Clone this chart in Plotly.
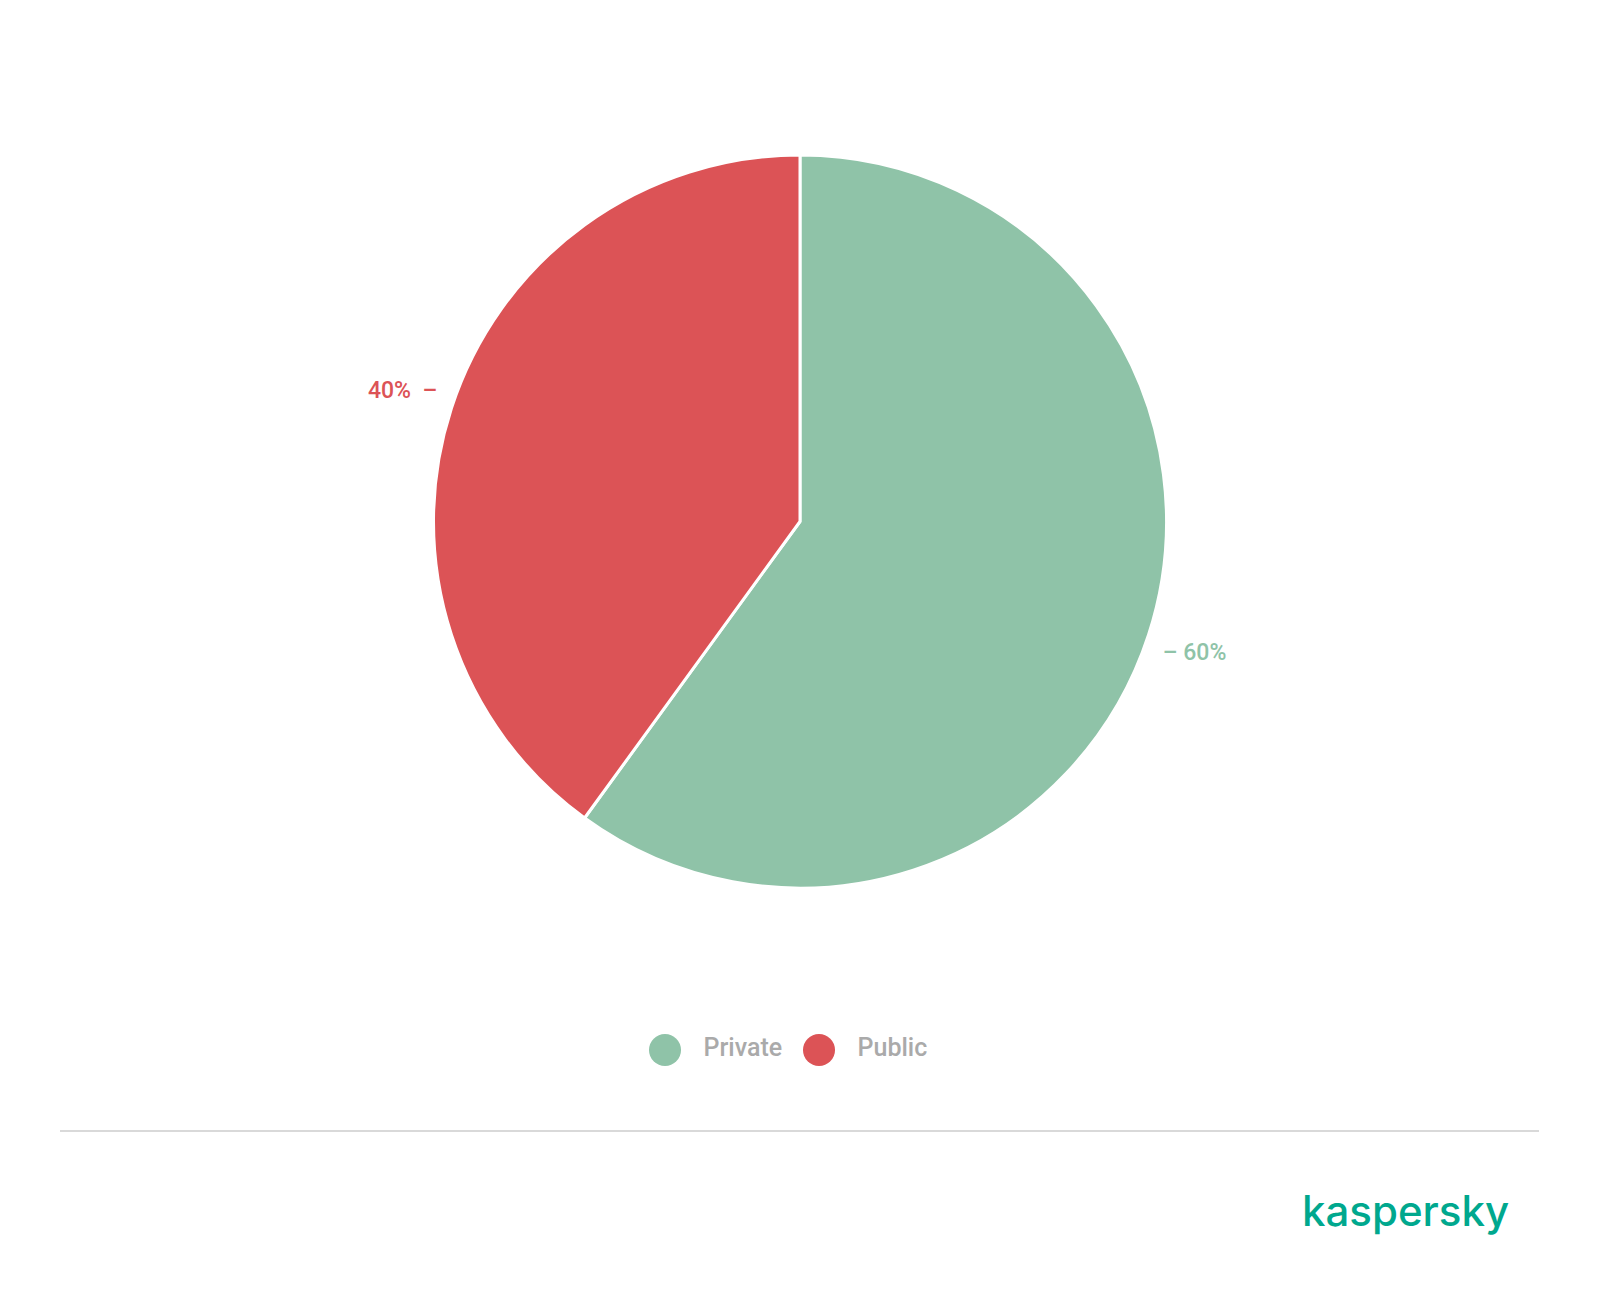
import plotly.graph_objects as go

categories = ["Private", "Public"]
values = [60, 40]
colors = ["#8fc3a8", "#dc5356"]
# blank line nudges each label radially outward, like the reference
label_templates = ["\u00a0<br>– %{percent:.0%}", "%{percent:.0%}  –<br>\u00a0"]
brand = "kaspersky"

# page body has an 8px margin, so the figure is drawn 8px in from the page edge
OFF = 8
W, H = 1600 - 2 * OFF, 1294 - 2 * OFF


def px(x):
    return (x - OFF) / W


def py(y):
    return 1 - (y - OFF) / H


fig = go.Figure()

fig.add_trace(go.Pie(
    labels=categories,
    values=values,
    sort=False,
    direction="clockwise",
    rotation=0,
    marker=dict(colors=colors, line=dict(color="#ffffff", width=3)),
    texttemplate=label_templates,
    textposition="outside",
    textfont=dict(color=colors, size=23, family="Roboto", weight=500),
    showlegend=False,
    hoverinfo="skip",
    automargin=False,
    domain=dict(x=[px(800 - 600), px(800 + 600)], y=[py(888), py(155)]),
))

# custom legend with large circular markers
fig.add_trace(go.Scatter(
    x=list(range(len(categories))),
    y=[0] * len(categories),
    mode="markers+text",
    marker=dict(size=32, color=colors, line=dict(width=0)),
    text=["  \u2009" + c for c in categories],
    textposition="middle right",
    textfont=dict(color="#aaaaaa", size=25, family="Roboto", weight=500),
    showlegend=False,
    hoverinfo="skip",
    cliponaxis=False,
    xaxis="x", yaxis="y",
))

fig.update_layout(
    width=W, height=H,
    margin=dict(l=0, r=0, t=0, b=0, autoexpand=False),
    paper_bgcolor="#ffffff",
    plot_bgcolor="rgba(0,0,0,0)",
    font=dict(family="Roboto"),
    xaxis=dict(domain=[px(665 - 154), px(665 + 2 * 154)], range=[-1, 2],
               visible=False, fixedrange=True),
    yaxis=dict(domain=[py(1070), py(1030)], range=[-1, 1], visible=False, fixedrange=True),
    hovermode=False,
    shapes=[dict(type="line", xref="paper", yref="paper",
                 x0=px(60), x1=px(1539), y0=py(1131), y1=py(1131),
                 line=dict(color="#d9d9d9", width=2))],
    annotations=[dict(text=brand, xref="paper", yref="paper",
                      x=px(1405), y=py(1210), xanchor="center", yanchor="middle",
                      showarrow=False,
                      font=dict(family="Inter", size=42, color="#00a88e", weight=500))],
)

fig.write_html("out.html")
